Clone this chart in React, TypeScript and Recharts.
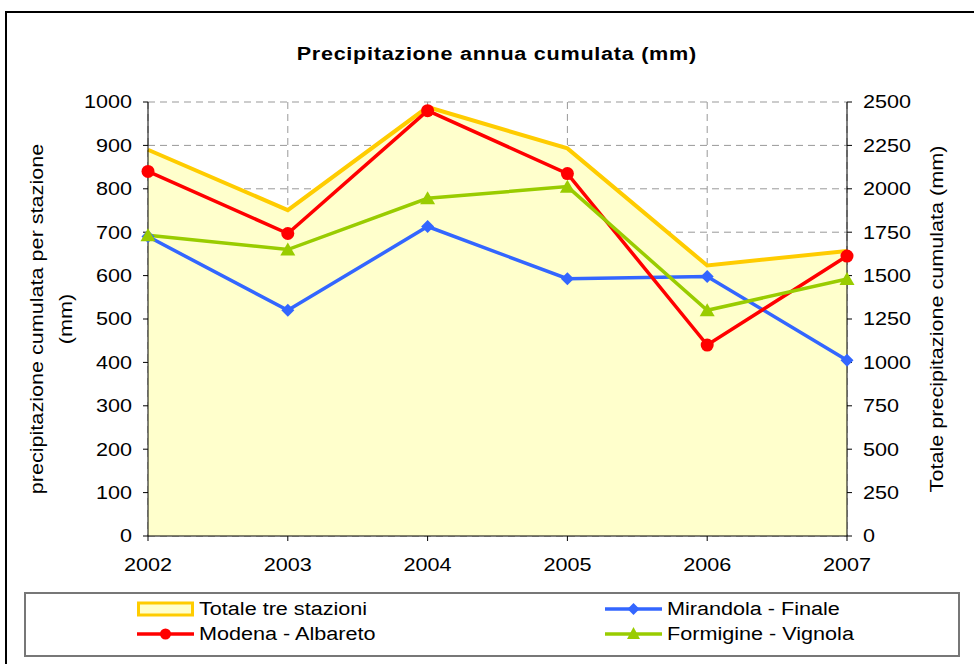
import { ComposedChart, Area, Line, XAxis, YAxis, CartesianGrid, Label } from "recharts"

const years = ["2002", "2003", "2004", "2005", "2006", "2007"]
const totale = [2225, 1877, 2471, 2233, 1558, 1642]
const mirandola = [690, 520, 713, 593, 598, 405]
const modena = [840, 697, 980, 835, 440, 645]
const formigine = [693, 660, 778, 805, 520, 592]

const leftTicks = [0, 100, 200, 300, 400, 500, 600, 700, 800, 900, 1000]
const rightTicks = [0, 250, 500, 750, 1000, 1250, 1500, 1750, 2000, 2250, 2500]

const data = years.map((y, i) => ({
  year: y,
  totale: totale[i],
  mirandola: mirandola[i],
  modena: modena[i],
  formigine: formigine[i],
}))

const FONT = "'Liberation Sans', Arial, sans-serif"
const FS = 18
const SX = 1.2 // testo "stirato" come in Excel

const Diamond = (p: any) => {
  const { cx, cy } = p
  if (cx == null || cy == null) return null
  const s = 6.5
  return <polygon key={p.index} points={`${cx},${cy - s} ${cx + s},${cy} ${cx},${cy + s} ${cx - s},${cy}`} fill="#3366FF" />
}
const Triangle = (p: any) => {
  const { cx, cy } = p
  if (cx == null || cy == null) return null
  return <polygon key={p.index} points={`${cx},${cy - 7} ${cx + 7.5},${cy + 6} ${cx - 7.5},${cy + 6}`} fill="#99CC00" />
}
const Circle = (p: any) => {
  const { cx, cy } = p
  if (cx == null || cy == null) return null
  return <circle key={p.index} cx={cx} cy={cy} r={6.5} fill="#FF0000" />
}

const YTick = (p: any) => {
  const { x, y, payload, textAnchor } = p
  return (
    <text transform={`translate(${x},${y}) scale(${SX},1)`} textAnchor={textAnchor} dominantBaseline="central" fontFamily={FONT} fontSize={FS} fill="#000">
      {payload.value}
    </text>
  )
}
const XTick = (p: any) => {
  const { x, y, payload } = p
  return (
    <text transform={`translate(${x},${y}) scale(${SX},1)`} textAnchor="middle" dy="0.71em" fontFamily={FONT} fontSize={FS} fill="#000">
      {payload.value}
    </text>
  )
}

const RotText = ({ cx, cy, children }: any) => (
  <text
    transform={`translate(${cx},${cy}) rotate(-90) scale(${SX},1)`}
    textAnchor="middle"
    dominantBaseline="central"
    fontFamily={FONT}
    fontSize={FS}
    fill="#000"
  >
    {children}
  </text>
)

const LeftTitle = (props: any) => {
  const { x, y, height } = props.viewBox
  const cy = y + height / 2
  return (
    <g>
      <RotText cx={x + 37} cy={cy}>precipitazione cumulata per stazione</RotText>
      <RotText cx={x + 66} cy={cy}>(mm)</RotText>
    </g>
  )
}
const RightTitle = (props: any) => {
  const { x, y, height } = props.viewBox
  return <RotText cx={x + 90} cy={y + height / 2}>Totale precipitazione cumulata (mm)</RotText>
}

function LegendIcon({ kind }: { kind: string }) {
  return (
    <svg width={57} height={16} style={{ display: "block" }}>
      {kind === "area" ? (
        <rect x={1.5} y={2} width={54} height={12} fill="#FFFFCC" stroke="#FFCC00" strokeWidth={3} />
      ) : (
        <>
          <line x1={0} y1={8} x2={57} y2={8} stroke={kind === "blue" ? "#3366FF" : kind === "red" ? "#FF0000" : "#99CC00"} strokeWidth={3.5} />
          {kind === "blue" && <polygon points="28.5,2 34.5,8 28.5,14 22.5,8" fill="#3366FF" />}
          {kind === "red" && <circle cx={28.5} cy={8} r={5.5} fill="#FF0000" />}
          {kind === "green" && <polygon points="28.5,1 35,13 22,13" fill="#99CC00" />}
        </>
      )}
    </svg>
  )
}

const legendItems = [
  { name: "Totale tre stazioni", kind: "area", left: 137, top: 601 },
  { name: "Mirandola - Finale", kind: "blue", left: 605, top: 601 },
  { name: "Modena - Albareto", kind: "red", left: 137, top: 626 },
  { name: "Formigine - Vignola", kind: "green", left: 605, top: 626 },
]

export default function App() {
  return (
    <div style={{ position: "absolute", left: 0, top: 0, width: 974, height: 664, overflow: "hidden", background: "#fff", fontFamily: FONT }}>
      <div style={{ position: "absolute", left: 5, top: 11, width: 1000, height: 700, border: "2px solid #000" }} />
      <div style={{ position: "absolute", left: 0, top: 44, width: 994, textAlign: "center" }}>
        <span style={{ display: "inline-block", fontSize: FS, fontWeight: "bold", letterSpacing: 0.6, transform: `scaleX(${SX})` }}>
          Precipitazione annua cumulata (mm)
        </span>
      </div>
      <div style={{ position: "absolute", left: 0, top: 0 }}>
        <ComposedChart width={974} height={664} data={data} margin={{ top: 102, right: 0, bottom: 0, left: 0 }}>
          <CartesianGrid yAxisId="left" stroke="#999" strokeDasharray="7 5" />
          <XAxis
            dataKey="year"
            height={128}
            tickSize={5}
            tickMargin={17}
            tick={XTick}
            axisLine={{ stroke: "#000" }}
            tickLine={{ stroke: "#000" }}
          />
          <YAxis
            yAxisId="left"
            width={148}
            domain={[0, 1000]}
            ticks={leftTicks}
            tickSize={5}
            tickMargin={11}
            tick={YTick}
            axisLine={{ stroke: "#000" }}
            tickLine={{ stroke: "#000" }}
          >
            <Label content={LeftTitle} />
          </YAxis>
          <YAxis
            yAxisId="right"
            orientation="right"
            width={127}
            domain={[0, 2500]}
            ticks={rightTicks}
            tickSize={5}
            tickMargin={11}
            tick={YTick}
            axisLine={{ stroke: "#000" }}
            tickLine={{ stroke: "#000" }}
          >
            <Label content={RightTitle} />
          </YAxis>
          <Area yAxisId="right" type="linear" dataKey="totale" name="Totale tre stazioni" stroke="#FFCC00" strokeWidth={4} fill="#FFFFCC" fillOpacity={1} isAnimationActive={false} />
          <Line yAxisId="left" type="linear" dataKey="mirandola" name="Mirandola - Finale" stroke="#3366FF" strokeWidth={3.5} dot={Diamond} activeDot={false} isAnimationActive={false} />
          <Line yAxisId="left" type="linear" dataKey="modena" name="Modena - Albareto" stroke="#FF0000" strokeWidth={3.5} dot={Circle} activeDot={false} isAnimationActive={false} />
          <Line yAxisId="left" type="linear" dataKey="formigine" name="Formigine - Vignola" stroke="#99CC00" strokeWidth={3.5} dot={Triangle} activeDot={false} isAnimationActive={false} />
        </ComposedChart>
      </div>
      <div style={{ position: "absolute", left: 24, top: 592, width: 932, height: 61, border: "2px solid #777" }} />
      {legendItems.map((it) => (
        <div key={it.name} style={{ position: "absolute", left: it.left, top: it.top, display: "flex", alignItems: "center", fontSize: FS, lineHeight: "16px", color: "#000" }}>
          <LegendIcon kind={it.kind} />
          <span style={{ marginLeft: 5, display: "inline-block", transform: `scaleX(${SX})`, transformOrigin: "left center" }}>{it.name}</span>
        </div>
      ))}
    </div>
  )
}
